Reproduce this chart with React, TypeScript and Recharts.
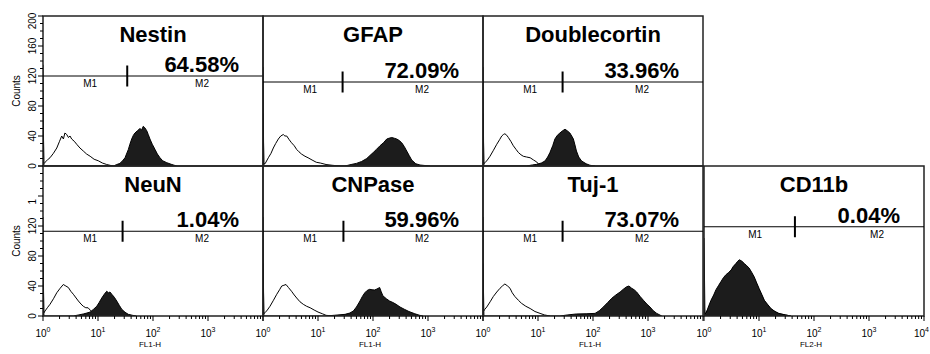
import React from 'react';
import { AreaChart, Area, XAxis, YAxis, ReferenceLine, ReferenceDot, ReferenceArea } from 'recharts';

type Pt = [number, number];

// panel texts and marker settings
const titles = ['Nestin', 'GFAP', 'Doublecortin', 'NeuN', 'CNPase', 'Tuj-1', 'CD11b'];
const percents = ['64.58%', '72.09%', '33.96%', '1.04%', '59.96%', '73.07%', '0.04%'];
const gates = [34, 28, 28, 28, 29, 28, 45];
const markerLevels = [120, 112, 112, 113, 113, 113, 119];
const m1Pos = [7.2, 7.2, 7.2, 7.2, 7.2, 7.2, 8.5];
const m2Pos = [780, 780, 780, 780, 780, 780, 1400];
const channels = ['FL1-H', 'FL1-H', 'FL1-H', 'FL1-H', 'FL1-H', 'FL1-H', 'FL2-H'];

const yLabelsTop = ['0', '40', '80', '120', '160', '200'];
const yLabelsBottom = ['0', '40', '80', '120', '1', ''];
const xDecades = [1, 10, 100, 1000, 10000];

// histograms: [fluorescence, counts]
const nestinControl: Pt[] = [[1, 135], [1.03, 3], [1.09, 5], [1.2, 8], [1.34, 11], [1.55, 17], [1.78, 24], [2.0, 33], [2.19, 40], [2.35, 36], [2.5, 44], [2.7, 42], [2.9, 38], [3.1, 40], [3.32, 36], [3.7, 33], [4.1, 29], [4.7, 24], [5.4, 20], [6.2, 16], [7.2, 13], [8.5, 9], [10.1, 7], [12, 4], [14.4, 2], [18.7, 0]];
const nestinStained: Pt[] = [[1, 76], [1.04, 0], [19, 0], [22, 2], [25, 3.5], [28, 7], [31, 11], [33, 16], [35.6, 22], [38, 29], [41, 36], [44, 41], [47, 44], [52, 47], [58, 50], [62, 48], [66.6, 53], [71, 51], [77, 47], [82, 42], [88, 36], [97, 29], [109, 22], [120, 16], [134, 11], [150, 7], [178, 4.4], [220, 2], [270, 0]];

const gfapControl: Pt[] = [[1, 132], [1.03, 3], [1.09, 3], [1.25, 11], [1.4, 17], [1.54, 24], [1.7, 30], [1.9, 36], [2.1, 40], [2.34, 42], [2.5, 40], [2.7, 40], [3.0, 35], [3.3, 31], [3.7, 27], [4.1, 22], [4.5, 19], [5.0, 16], [5.8, 13], [6.6, 11], [7.8, 8], [9.3, 5], [11, 4], [14, 2], [18, 1], [25, 0]];
const gfapStained: Pt[] = [[1, 70], [1.04, 0], [31, 0], [40, 2], [50, 3.5], [62, 6], [77, 10], [88, 14], [101, 18], [115, 22], [134, 27], [155, 31], [178, 36], [195, 37], [219, 38], [245, 37], [270, 36], [300, 34], [333, 31], [370, 26], [410, 20], [455, 14], [505, 8], [600, 3], [716, 1.3], [1087, 0]];

const dcxControl: Pt[] = [[1, 132], [1.03, 3], [1.09, 4.4], [1.2, 8], [1.34, 13], [1.55, 21], [1.78, 29], [2.0, 35], [2.19, 40], [2.35, 42], [2.5, 43], [2.7, 41], [2.89, 38], [3.2, 33], [3.56, 27], [4.0, 22], [4.4, 18], [4.9, 15], [5.4, 13], [6.2, 12], [7.2, 11], [8.3, 8], [9.5, 5.3], [10.9, 0]];
const dcxStained: Pt[] = [[1, 70], [1.04, 0], [6.2, 0], [8, 1.5], [9.5, 2.2], [11.5, 4], [13.4, 6.7], [15, 12], [16.5, 18], [18.5, 27], [20.3, 36], [22.5, 41], [25, 44], [28, 47], [31, 49], [34, 47], [38, 44], [41, 40], [44, 36], [47, 28], [50, 20], [55, 12], [62, 6.7], [75, 3], [88, 1], [109, 0]];

const neunControl: Pt[] = [[1, 132], [1.03, 4], [1.09, 6.7], [1.2, 11], [1.34, 15.6], [1.55, 23], [1.78, 31], [2.05, 37], [2.34, 42], [2.6, 40], [2.89, 38], [3.2, 33], [3.56, 29], [4.0, 24], [4.4, 20], [4.9, 16], [5.4, 13], [6.0, 11], [6.6, 11], [7.4, 7], [8.2, 3.5], [10.1, 0]];
const neunStained: Pt[] = [[1, 70], [1.04, 0], [3.56, 0], [4.5, 1.5], [5.4, 2.7], [6.3, 4], [7.2, 5.3], [8.3, 9], [9.5, 13], [10.5, 18], [11.7, 24], [13, 29], [14.4, 33], [15.5, 31], [16.5, 32], [17.8, 29], [19.8, 25], [21.9, 20], [24.5, 14], [27, 9], [31, 5], [35.6, 2.2], [42, 1], [50, 0]];

const cnpaseControl: Pt[] = [[1, 132], [1.03, 3], [1.09, 4.4], [1.2, 8], [1.34, 13], [1.55, 21], [1.78, 29], [2.0, 35], [2.19, 40], [2.4, 41], [2.62, 42], [2.9, 38], [3.3, 33], [3.7, 28], [4.1, 24], [4.7, 19], [5.4, 15.6], [6.2, 13], [7.2, 11], [8.5, 8], [10, 5.3], [12, 3], [14, 0.9], [19, 0]];
const cnpaseStained: Pt[] = [[1, 70], [1.04, 0], [14, 0], [20, 1], [31, 2.2], [38, 4], [44, 6.7], [50, 12], [58, 20], [64, 26], [71, 31], [78, 34], [87, 35.6], [96, 35], [107, 34.7], [118, 36], [132, 38], [140, 33], [151, 27], [175, 23], [200, 20], [230, 18], [263, 15.6], [310, 12], [371, 9], [450, 6], [576, 3], [700, 1], [813, 0]];

const tujControl: Pt[] = [[1, 132], [1.01, 5.7], [1.08, 9], [1.17, 12], [1.35, 19], [1.54, 26], [1.78, 32], [2.04, 37], [2.25, 40], [2.5, 42.7], [2.8, 40], [3.1, 37], [3.4, 31], [3.8, 26], [4.4, 21], [5.0, 17], [6.0, 13], [7.2, 10], [8.8, 6], [10.9, 3.5], [13, 1.5], [16.5, 0]];
const tujStained: Pt[] = [[1, 70], [1.04, 0], [25, 0], [35, 1.5], [50, 2.7], [75, 3], [109, 3.5], [130, 7], [154, 12], [185, 18], [219, 23.6], [260, 28], [311, 32], [360, 36], [410, 39], [450, 40], [505, 37], [560, 35], [622, 32], [720, 26], [825, 21], [950, 16], [1087, 12], [1250, 7], [1440, 3.5], [1780, 0]];

const cd11bControl: Pt[] = [[1, 20], [1.04, 2], [1.2, 10], [1.5, 26], [2.04, 44], [2.8, 57], [3.8, 69], [4.4, 73], [5.4, 69], [6.6, 62], [8.2, 50], [10, 35], [12.5, 20], [16.5, 9], [23, 3], [38, 0]];
const cd11bStained: Pt[] = [[1, 104], [1.04, 3], [1.09, 3.5], [1.2, 12], [1.34, 21], [1.5, 28], [1.65, 35], [1.85, 41], [2.04, 46], [2.25, 51], [2.5, 55], [2.8, 58], [3.1, 61], [3.4, 66], [3.8, 70], [4.1, 73], [4.4, 75], [4.9, 73], [5.4, 70], [6.0, 67], [6.6, 64], [7.4, 58], [8.2, 52], [9.1, 44], [10, 37], [11.2, 29], [12.5, 21], [14.5, 15], [16.5, 10], [19.5, 6], [23, 3.5], [30, 1.5], [38, 0]];

const controls = [nestinControl, gfapControl, dcxControl, neunControl, cnpaseControl, tujControl, cd11bControl];
const stained = [nestinStained, gfapStained, dcxStained, neunStained, cnpaseStained, tujStained, cd11bStained];

// layout (pixels)
const FONT = '"Liberation Sans", Arial, Helvetica, sans-serif';
const COLS = [43, 263, 483, 704];
const ROWS = [16, 166];
const CELLS = [[0, 0], [1, 0], [2, 0], [0, 1], [1, 1], [2, 1], [3, 1]];
const PW = 220;
const PH = 150;
const YW = 43;
const XH = 38;
const M = 10; // room round each plot so edge texts are not clipped

// log axis ticks 1..9 per decade, and count ticks every 10
const xTicks: number[] = [];
xDecades.slice(0, 4).forEach((d) => {
  for (let k = 1; k < 10; k++) xTicks.push(d * k);
});
xTicks.push(10000);
const yTicks: number[] = [];
for (let v = 0; v <= 200; v += 10) yTicks.push(v);

const toRows = (pts: Pt[]) => pts.map(([x, y]) => ({ x, y }));

const XTick = (props: any) => {
  const { x, y, payload, showLast } = props;
  const v = payload.value;
  const exp = Math.log10(v);
  const major = Math.abs(exp - Math.round(exp)) < 1e-6;
  const isLast = v === 10000;
  const showLabel = major && (!isLast || showLast);
  // the far-right label is pulled in so it stays on the page
  const lx = isLast ? x + 5 : x;
  return (
    <g>
      <line x1={x} x2={x} y1={y} y2={y + (major ? 5 : 3)} stroke="#000" />
      {showLabel && (
        <text x={lx} y={y + 21} textAnchor={isLast ? 'end' : 'middle'} fontSize={10} fontFamily={FONT} fill="#000">
          10<tspan dy={-5} fontSize={7}>{Math.round(exp)}</tspan>
        </text>
      )}
    </g>
  );
};

const YTick = (props: any) => {
  const { x, y, payload, labels } = props;
  const v = payload.value;
  const major = v % 40 === 0;
  const label = major ? labels[v / 40] : '';
  const clipped = label && label !== String(v);
  const tx = x - 7;
  // the top label sits a little lower, inside the frame
  const ty = clipped ? y + 8.5 : v === 200 ? y + 5 : y;
  return (
    <g>
      <line x1={x} x2={x - (major ? 5 : 3)} y1={y} y2={y} stroke="#000" />
      {label && (
        <text
          x={tx}
          y={ty}
          transform={`rotate(-90 ${tx} ${ty})`}
          textAnchor={clipped ? 'start' : 'middle'}
          fontSize={10}
          fontFamily={FONT}
          fill="#000"
        >
          {label}
        </text>
      )}
    </g>
  );
};

const textLabel = (text: string, dx: number, dy: number, size: number, bold: boolean, anchor: string) => ({
  content: ({ viewBox }: any) => (
    <text
      x={viewBox.x + dx}
      y={viewBox.y + dy}
      textAnchor={anchor}
      fontSize={size}
      fontWeight={bold ? 'bold' : 'normal'}
      fontFamily={FONT}
      fill="#000"
    >
      {text}
    </text>
  ),
});

const Panel = ({ i }: { i: number }) => {
  const [col, row] = CELLS[i];
  const hasY = col === 0;
  const hasX = row === 1;
  const yw = hasY ? YW : 0;
  const xh = hasX ? XH : 0;
  const width = PW + yw + 2 * M;
  const height = PH + xh + 2 * M;
  const left = COLS[col] - yw - M;
  const top = ROWS[row] - M;
  const level = markerLevels[i];
  const gate = gates[i];

  return (
    <div style={{ position: 'absolute', left, top, width, height }}>
      <AreaChart width={width} height={height} margin={{ top: M, right: M, bottom: M, left: M }}>
        <XAxis
          dataKey="x"
          type="number"
          scale="log"
          domain={[1, 10000]}
          allowDataOverflow
          hide={!hasX}
          height={XH}
          ticks={xTicks}
          interval={0}
          tickSize={0}
          tickMargin={0}
          axisLine={false}
          tickLine={false}
          tick={(p: any) => <XTick {...p} showLast={col === 3} />}
          label={{
            content: ({ viewBox }: any) => (
              <text x={viewBox.x + viewBox.width / 2 - 3} y={viewBox.y + 31} textAnchor="middle" fontSize={8} fontFamily={FONT} fill="#000">
                {channels[i]}
              </text>
            ),
          }}
        />
        <YAxis
          type="number"
          domain={[0, 200]}
          allowDataOverflow
          hide={!hasY}
          width={YW}
          ticks={yTicks}
          interval={0}
          tickSize={0}
          tickMargin={0}
          axisLine={false}
          tickLine={false}
          tick={(p: any) => <YTick {...p} labels={row === 0 ? yLabelsTop : yLabelsBottom} />}
          label={{
            content: ({ viewBox }: any) => {
              const cx = viewBox.x + 20;
              const cy = viewBox.y + viewBox.height / 2;
              return (
                <text x={cx} y={cy} transform={`rotate(-90 ${cx} ${cy})`} textAnchor="middle" fontSize={10} fontFamily={FONT} fill="#000">
                  Counts
                </text>
              );
            },
          }}
        />
        <Area
          data={toRows(controls[i])}
          dataKey="y"
          type="linear"
          stroke="#000"
          strokeWidth={1}
          fill="#fff"
          fillOpacity={1}
          dot={false}
          activeDot={false}
          isAnimationActive={false}
        />
        <Area
          data={toRows(stained[i])}
          dataKey="y"
          type="linear"
          stroke="#000"
          strokeWidth={1}
          fill="#1c1c1c"
          fillOpacity={1}
          dot={false}
          activeDot={false}
          isAnimationActive={false}
        />
        <ReferenceLine y={level} stroke="#000" strokeWidth={1} ifOverflow="visible" />
        <ReferenceLine
          segment={[{ x: gate, y: level - 14 }, { x: gate, y: level + 14 }]}
          stroke="#000"
          strokeWidth={2}
          ifOverflow="visible"
        />
        <ReferenceDot x={100} y={200} r={0} fill="none" stroke="none" ifOverflow="visible" label={textLabel(titles[i], 0, 26, 22, true, 'middle')} />
        <ReferenceDot x={10000} y={level} r={0} fill="none" stroke="none" ifOverflow="visible" label={textLabel(percents[i], -24, -4, 22, true, 'end')} />
        <ReferenceDot x={m1Pos[i]} y={level} r={0} fill="none" stroke="none" ifOverflow="visible" label={textLabel('M1', 0, 11, 10, false, 'middle')} />
        <ReferenceDot x={m2Pos[i]} y={level} r={0} fill="none" stroke="none" ifOverflow="visible" label={textLabel('M2', 0, 11, 10, false, 'middle')} />
        <ReferenceArea x1={1} x2={10000} y1={0} y2={200} fill="none" stroke="#222" strokeWidth={1.5} ifOverflow="visible" />
      </AreaChart>
    </div>
  );
};

export default function App() {
  return (
    <div style={{ position: 'absolute', left: 0, top: 0, width: 930, height: 354, background: '#fff', overflow: 'hidden' }}>
      {titles.map((_, i) => (
        <Panel key={titles[i]} i={i} />
      ))}
    </div>
  );
}
